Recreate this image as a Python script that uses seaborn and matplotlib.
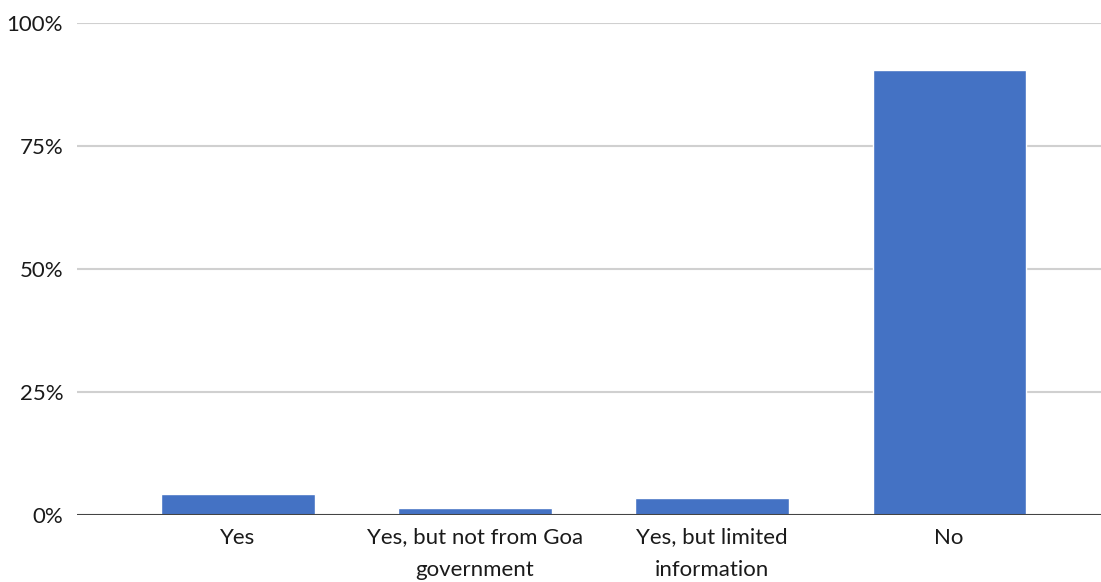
import numpy as np
import pandas as pd
import seaborn as sns
import matplotlib.pyplot as plt
from matplotlib.ticker import PercentFormatter

# answers to the question and share of respondents
categories = ['Yes', 'Yes, but not from Goa\ngovernment', 'Yes, but limited\ninformation', 'No']
shares = [4.3, 1.35, 3.4, 90.4]
y_ticks = [0, 25, 50, 75, 100]

df = pd.DataFrame({'answer': categories, 'share': shares})

sns.set_theme(style='white')
plt.rcParams['font.family'] = ['Lato', 'DejaVu Sans']

fig, ax = plt.subplots(figsize=(11.01, 5.82), dpi=100)
fig.subplots_adjust(left=0.07, right=1.0, top=0.96, bottom=0.115)

sns.barplot(data=df, x='answer', y='share', color='#4472C4', saturation=1,
            width=0.646, ax=ax, zorder=3)

ax.set_ylim(0, 100)
ax.set_xlim(-0.679, 3.641)
ax.set_yticks(y_ticks)
ax.yaxis.set_major_formatter(PercentFormatter(decimals=0))
ax.yaxis.grid(True, color='#d0d0d0', linewidth=1.5, zorder=0)
ax.axhline(0, color='#444444', linewidth=2.2, zorder=4)

for side in ['top', 'right', 'left', 'bottom']:
    ax.spines[side].set_visible(False)

ax.set_xlabel('')
ax.set_ylabel('')
ax.tick_params(axis='both', length=0, labelsize=16, colors='#1a1a1a')
ax.tick_params(axis='y', pad=10)
ax.tick_params(axis='x', pad=9)
for lbl in ax.get_xticklabels():
    lbl.set_linespacing(1.75)

fig.savefig('out.png', dpi=100)
